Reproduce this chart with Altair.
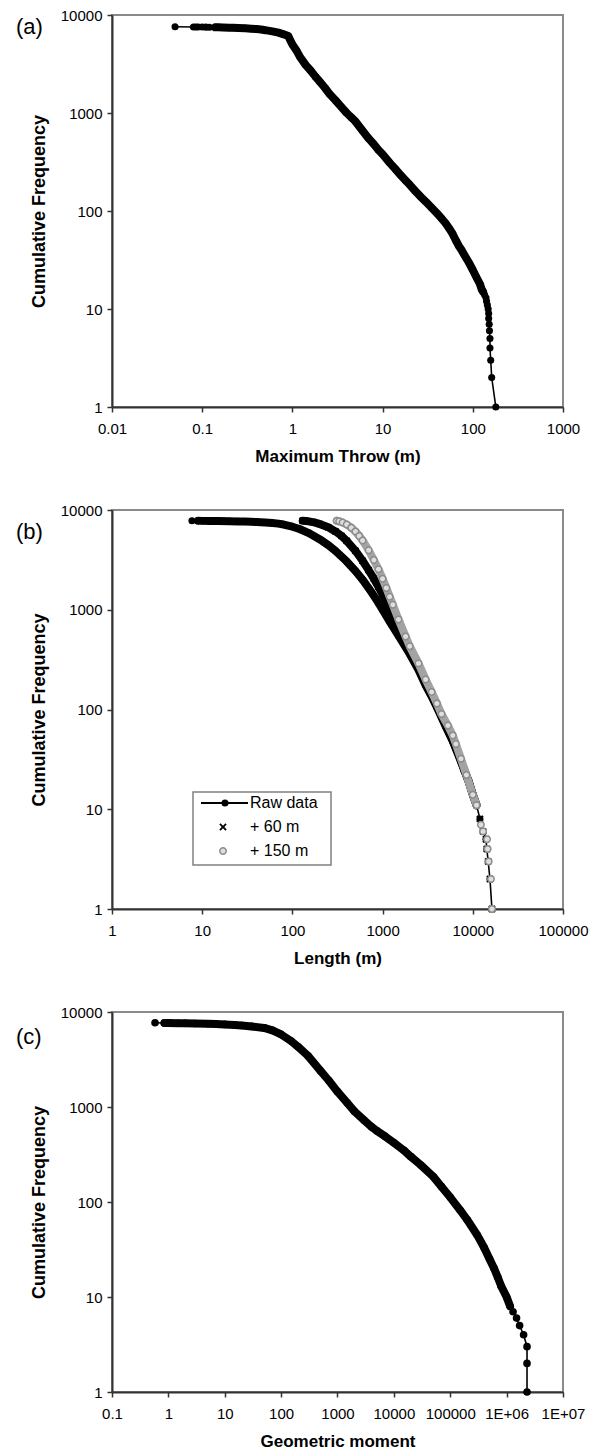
import altair as alt
import pandas as pd

FONT = "Liberation Sans"

# ---------------- panel (a): maximum throw ----------------
a_throw = [0.05, 0.08, 0.085, 0.09, 0.1, 0.11, 0.12, 0.14, 0.15, 0.17,
           0.2, 0.22, 0.25, 0.3, 0.35, 0.4, 0.45, 0.5, 0.6, 0.7,
           0.8, 0.9, 0.95, 1.0, 1.1, 1.2, 1.4, 1.6, 1.8, 2.0,
           2.3, 2.6, 3.0, 3.5, 4.0, 4.5, 5, 6, 7, 8,
           9, 10, 12, 14, 16, 18, 20, 23, 26, 30,
           35, 40, 45, 50, 55, 60, 65, 70, 75, 80,
           90, 100, 110, 120, 125, 130, 135, 140, 142, 145,
           148, 150, 150, 152, 153, 155, 155, 158, 162, 180]
a_freq = [7600, 7550, 7550, 7540, 7530, 7520, 7510, 7490, 7480, 7460,
          7430, 7400, 7370, 7320, 7250, 7180, 7100, 7000, 6800, 6600,
          6350, 6100, 5500, 5000, 4400, 3800, 3100, 2700, 2350, 2100,
          1800, 1550, 1350, 1150, 1000, 900, 820, 660, 550, 480,
          420, 380, 310, 265, 230, 205, 185, 160, 142, 125,
          108, 95, 84, 75, 66, 58, 50, 44, 40, 36,
          30, 25, 21, 18, 16, 15, 14, 13, 12, 11,
          10, 9, 8, 7, 6, 5, 4, 3, 2, 1]

# ---------------- panel (b): length ----------------
b_raw_len = [7.7, 9, 10, 12, 15, 20, 25, 30, 40, 50,
             60, 70, 80, 100, 120, 150, 200, 250, 300, 400,
             500, 600, 700, 800, 900, 1000, 1200, 1500, 2000, 2500,
             3000, 3500, 4000, 5000, 6000, 7000, 8000, 9000, 10000, 11000,
             12000, 13000, 14000, 14300, 14800, 15500, 16300]
b_raw_freq = [7800, 7790, 7780, 7770, 7750, 7720, 7690, 7650, 7580, 7500,
              7400, 7300, 7150, 6800, 6450, 5900, 5100, 4450, 3900, 3050,
              2450, 2000, 1650, 1380, 1170, 1000, 760, 550, 360, 250,
              175, 135, 105, 68, 48, 34, 25, 19, 14, 11,
              8, 6, 5, 4, 3, 2, 1]
b_p60_len = [130, 140, 150, 170, 200, 250, 300, 350, 400, 500,
             600, 700, 800, 900, 1000, 1100, 1200, 1500, 2000, 2500,
             3000, 3500, 4000, 5000, 6000, 7000, 8000, 9000, 10000, 11000,
             12000, 13000, 14000, 14300, 14800, 15500, 16300]
b_p60_freq = [7800, 7750, 7700, 7550, 7250, 6700, 6100, 5500, 4900, 3900,
              3100, 2500, 2050, 1700, 1420, 1200, 1020, 680, 400, 270,
              185, 140, 108, 70, 49, 35, 25, 19, 14, 11,
              8, 6, 5, 4, 3, 2, 1]
b_p150_len = [310, 330, 360, 400, 450, 500, 550, 600, 700, 800,
              900, 1000, 1100, 1200, 1300, 1500, 1800, 2000, 2500, 3000,
              3500, 4000, 4500, 5300, 6000, 6500, 7400, 8500, 10000, 11000,
              12300, 13000, 14400, 14600, 15000, 15900, 16300]
b_p150_freq = [7800, 7700, 7500, 7150, 6650, 6100, 5500, 4950, 3950, 3150,
               2550, 2050, 1650, 1350, 1120, 800, 540, 430, 290, 200,
               150, 115, 90, 69, 55, 45, 32, 22, 14, 11,
               7, 6, 5, 4, 3, 2, 1]

# ---------------- panel (c): geometric moment ----------------
c_moment = [0.58, 0.85, 1, 1.5, 2, 3, 5, 7, 10, 15,
            20, 30, 50, 70, 100, 150, 200, 300, 500, 700,
            1000, 1500, 2000, 3000, 4000, 5000, 7000, 10000, 15000, 20000,
            30000, 50000, 70000, 100000, 150000, 200000, 300000, 400000, 500000, 600000,
            700000, 800000, 1000000, 1150000, 1300000, 1500000, 1700000, 2000000, 2300000, 2300000,
            2300000]
c_freq = [7700, 7650, 7640, 7620, 7600, 7570, 7520, 7470, 7400, 7300,
          7200, 7050, 6800, 6400, 5800, 4950, 4300, 3450, 2400, 1900,
          1450, 1100, 900, 720, 620, 560, 490, 420, 350, 300,
          245, 185, 145, 112, 82, 65, 45, 33, 25, 20,
          16, 13, 10, 8, 7, 6, 5, 4, 3, 2,
          1]

# ---------------- ticks and texts ----------------
y_ticks = [1, 10, 100, 1000, 10000]
y_tick_labels = ["1", "10", "100", "1000", "10000"]
a_ticks = [0.01, 0.1, 1, 10, 100, 1000]
a_tick_labels = ["0.01", "0.1", "1", "10", "100", "1000"]
b_ticks = [1, 10, 100, 1000, 10000, 100000]
b_tick_labels = ["1", "10", "100", "1000", "10000", "100000"]
c_ticks = [0.1, 1, 10, 100, 1000, 10000, 100000, 1000000, 10000000]
c_tick_labels = ["0.1", "1", "10", "100", "1000", "10000", "100000", "1E+06", "1E+07"]

panel_tags = ["(a)", "(b)", "(c)"]
x_titles = ["Maximum Throw (m)", "Length (m)", "Geometric moment"]
y_title = "Cumulative Frequency"
legend_labels = ["Raw data", "+ 60 m", "+ 150 m"]

W = 451
H_A, H_B, H_C = 392, 399, 380
X_SHAPE = "M-1,-0.65L-0.65,-1L0,-0.35L0.65,-1L1,-0.65L0.35,0L1,0.65L0.65,1L0,0.35L-0.65,1L-1,0.65L-0.35,0Z"


def label_expr(vals, labs):
    return " : ".join(f"datum.value == {v} ? '{l}'" for v, l in zip(vals, labs)) + " : ''"


AX = dict(grid=False, tickSize=5, tickColor="#333333", tickWidth=1.5,
          domainColor="#333333", domainWidth=2, labelFont=FONT, labelFontSize=15,
          labelColor="black", titleFont=FONT, titleFontWeight="bold",
          titleColor="black", labelFlush=False, labelOverlap=False)


def x_enc(ticks, labels, title):
    return alt.X("x:Q", scale=alt.Scale(type="log", domain=[ticks[0], ticks[-1]], nice=False),
                 axis=alt.Axis(values=ticks, labelExpr=label_expr(ticks, labels), title=title,
                               labelPadding=9, titlePadding=12, titleFontSize=17, **AX))


def y_enc():
    return alt.Y("y:Q", scale=alt.Scale(type="log", domain=[1, 10000], nice=False),
                 axis=alt.Axis(values=y_ticks, labelExpr=label_expr(y_ticks, y_tick_labels),
                               title=y_title, labelPadding=5, titlePadding=12, titleFontSize=18, **AX))


def frame(xs, ys):
    return pd.DataFrame({"x": xs, "y": ys, "i": list(range(len(xs)))})


def series(df, xe, ye, thick_filter, line_color, thick_color, point_kw, with_line=True):
    base = alt.Chart(df).encode(x=xe, y=ye, order=alt.Order("i:Q"))
    layers = []
    if with_line:
        layers.append(base.mark_line(color=line_color, strokeWidth=1.6))
    layers.append(base.transform_filter(thick_filter).mark_line(
        color=thick_color, strokeWidth=8, strokeCap="round", strokeJoin="round"))
    layers.append(base.mark_point(opacity=1, **point_kw))
    return layers


def tag(text, dy):
    return alt.Chart(pd.DataFrame({"t": [text]})).mark_text(
        align="left", baseline="middle", font=FONT, fontSize=22, color="black"
    ).encode(text="t:N", x=alt.value(-96), y=alt.value(dy))


BLACK_DOT = dict(shape="circle", filled=True, color="black", size=50)
GRAY_DOT = dict(shape="circle", filled=True, fill="#dedede", stroke="#8c8c8c", strokeWidth=1.5, size=42)
BLACK_X = dict(shape=X_SHAPE, filled=True, color="black", size=55)

# panel (a)
xa = x_enc(a_ticks, a_tick_labels, x_titles[0])
da = frame(a_throw, a_freq)
panel_a = alt.layer(
    *series(da, xa, y_enc(), (alt.datum.x >= 0.14) & (alt.datum.y >= 15), "black", "black", BLACK_DOT),
    tag(panel_tags[0], 12),
).properties(width=W, height=H_A)

# panel (b)
xb = x_enc(b_ticks, b_tick_labels, x_titles[1])
d_raw = frame(b_raw_len, b_raw_freq)
d_60 = frame(b_p60_len, b_p60_freq)
d_150 = frame(b_p150_len, b_p150_freq)

one = pd.DataFrame({"t": [0]})
leg_box = alt.Chart(one).mark_rect(fill="white", stroke="#808080", strokeWidth=1.5).encode(
    x=alt.value(81), x2=alt.value(219), y=alt.value(282), y2=alt.value(355))
leg_line = alt.Chart(one).mark_rule(color="black", strokeWidth=2).encode(
    x=alt.value(89), x2=alt.value(136), y=alt.value(293))
leg_dot = alt.Chart(one).mark_point(opacity=1, **BLACK_DOT).encode(x=alt.value(113), y=alt.value(293))
leg_x = alt.Chart(one).mark_point(opacity=1, **BLACK_X).encode(x=alt.value(111), y=alt.value(317))
leg_o = alt.Chart(one).mark_point(opacity=1, **GRAY_DOT).encode(x=alt.value(111), y=alt.value(341))


def leg_text(label, yy):
    return alt.Chart(pd.DataFrame({"t": [label]})).mark_text(
        align="left", baseline="middle", font=FONT, fontSize=16, color="black"
    ).encode(text="t:N", x=alt.value(138), y=alt.value(yy))


panel_b = alt.layer(
    *series(d_raw, xb, y_enc(), (alt.datum.x >= 9) & (alt.datum.y >= 10), "black", "black", BLACK_DOT),
    *series(d_60, xb, y_enc(), alt.datum.y >= 10, "black", "black", BLACK_X, with_line=False),
    *series(d_150, xb, y_enc(), alt.datum.y >= 9, "#a0a0a0", "#a3a3a3", GRAY_DOT, with_line=False),
    leg_box, leg_line, leg_dot, leg_x, leg_o,
    leg_text(legend_labels[0], 293), leg_text(legend_labels[1], 317), leg_text(legend_labels[2], 341),
    tag(panel_tags[1], 22),
).properties(width=W, height=H_B)

# panel (c)
xc = x_enc(c_ticks, c_tick_labels, x_titles[2])
dc = frame(c_moment, c_freq)
panel_c = alt.layer(
    *series(dc, xc, y_enc(), (alt.datum.x >= 0.85) & (alt.datum.y >= 8), "black", "black",
            dict(shape="circle", filled=True, color="black", size=58)),
    tag(panel_tags[2], 25),
).properties(width=W, height=H_C)

chart = alt.vconcat(panel_a, panel_b, panel_c, spacing=103, bounds="flush").properties(
    padding={"left": 15, "top": 7, "right": 5, "bottom": 5},
    background="white",
).configure(font=FONT).configure_view(stroke="#8a8a8a", strokeWidth=2)

chart.save("out.html", embed_options={"renderer": "svg", "actions": False})
